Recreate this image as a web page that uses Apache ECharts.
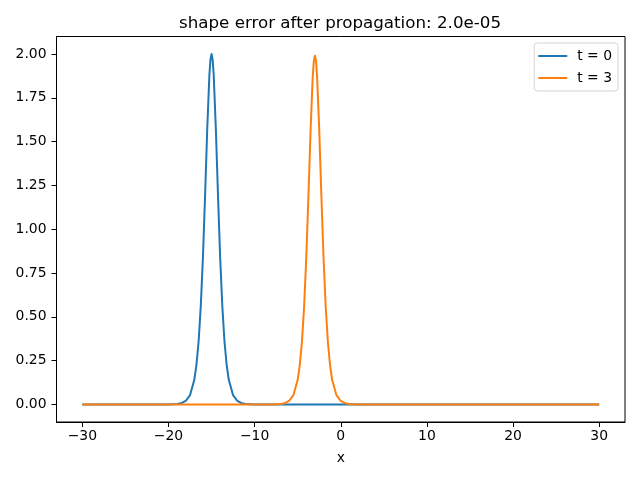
<!DOCTYPE html>
<html>
<head>
<meta charset="utf-8">
<script src="https://cdn.jsdelivr.net/npm/echarts@6/dist/echarts.min.js"></script>
<style>
html, body { margin: 0; padding: 0; background: #fff; }
#chart { width: 640px; height: 480px; }
</style>
</head>
<body>
<div id="chart"></div>
<script>
// values
var blueX = [-30, -24, -20, -19, -18.5, -18, -17.5, -17, -16.75, -16.5, -16.25, -16, -15.75, -15.5, -15.25, -15.125,
    -15, -14.875, -14.75, -14.5, -14.25, -14, -13.75, -13.5, -13.25, -13, -12.5, -12, -11.5, -11, -10, -8, 30];
var blueY = [0, 0, 0.0004, 0.0027, 0.0073, 0.020, 0.053, 0.141, 0.228, 0.361, 0.561, 0.840, 1.193, 1.573, 1.880, 1.969,
    2.000, 1.969, 1.880, 1.573, 1.193, 0.840, 0.561, 0.361, 0.228, 0.141, 0.053, 0.020, 0.0073, 0.0027, 0.0004, 0, 0];
var orangeX = [-30, -12, -8, -7, -6.5, -6, -5.5, -5, -4.75, -4.5, -4.25, -4, -3.75, -3.5, -3.25, -3.125,
    -3, -2.875, -2.75, -2.5, -2.25, -2, -1.75, -1.5, -1.25, -1, -0.5, 0, 0.5, 1, 2, 4, 30];
var orangeY = [0, 0, 0.0004, 0.0027, 0.0073, 0.020, 0.053, 0.141, 0.228, 0.361, 0.561, 0.840, 1.193, 1.570, 1.875, 1.960,
    1.990, 1.960, 1.875, 1.570, 1.193, 0.840, 0.561, 0.361, 0.228, 0.141, 0.053, 0.020, 0.0073, 0.0027, 0.0004, 0, 0];
var xTicks = [-30, -20, -10, 0, 10, 20, 30];
var yTicks = [0, 0.25, 0.5, 0.75, 1.0, 1.25, 1.5, 1.75, 2.0];
var titleText = 'shape error after propagation: 2.0e-05';

function pairs(xs, ys) {
    return xs.map(function (x, i) { return [x, ys[i]]; });
}

var chart = echarts.init(document.getElementById('chart'), null, { renderer: 'canvas' });
var font = 'DejaVu Sans';

chart.setOption({
    animation: false,
    textStyle: { fontFamily: font },
    title: {
        text: titleText,
        left: 335,
        top: 10,
        textAlign: 'center',
        textStyle: { fontSize: 16.7, fontWeight: 'normal', color: '#000', fontFamily: font }
    },
    legend: {
        orient: 'vertical',
        right: 22,
        top: 43,
        backgroundColor: '#fff',
        borderColor: '#d5d5d5',
        borderWidth: 1,
        borderRadius: 3,
        padding: [6, 6, 6, 4],
        itemGap: 8,
        itemWidth: 29,
        itemHeight: 2,
        icon: 'rect',
        textStyle: { fontSize: 13.9, color: '#000', fontFamily: font, padding: [0, 0, 0, 5] },
        data: ['t = 0', 't = 3']
    },
    grid: {
        left: 56.5,
        right: 15,
        top: 36.5,
        bottom: 58,
        show: true,
        borderColor: '#000',
        borderWidth: 1,
        backgroundColor: 'transparent'
    },
    xAxis: {
        type: 'value',
        min: -33,
        max: 33,
        name: 'x',
        nameLocation: 'middle',
        nameGap: 29,
        nameTextStyle: { fontSize: 13.9, color: '#000', fontFamily: font },
        axisLine: { show: true, onZero: false, lineStyle: { color: '#000', width: 1 } },
        axisTick: { show: true, length: 5, lineStyle: { color: '#000' }, customValues: xTicks },
        axisLabel: {
            fontSize: 13.9, color: '#000', margin: 7, fontFamily: font,
            customValues: xTicks,
            formatter: function (v) { return v < 0 ? '\u2212' + Math.abs(v) : String(v); }
        },
        splitLine: { show: false }
    },
    yAxis: {
        type: 'value',
        min: -0.1,
        max: 2.1,
        axisLine: { show: true, onZero: false, lineStyle: { color: '#000', width: 1 } },
        axisTick: { show: true, length: 5, lineStyle: { color: '#000' }, customValues: yTicks },
        axisLabel: {
            fontSize: 13.9, color: '#000', margin: 10, fontFamily: font,
            customValues: yTicks,
            formatter: function (v) { return v.toFixed(2); }
        },
        splitLine: { show: false }
    },
    series: [
        {
            name: 't = 0',
            type: 'line',
            data: pairs(blueX, blueY),
            showSymbol: false,
            symbol: 'none',
            color: '#1f77b4',
            lineStyle: { width: 2, color: '#1f77b4', join: 'round' },
            z: 2
        },
        {
            name: 't = 3',
            type: 'line',
            data: pairs(orangeX, orangeY),
            showSymbol: false,
            symbol: 'none',
            color: '#ff7f0e',
            lineStyle: { width: 2, color: '#ff7f0e', join: 'round' },
            z: 3
        }
    ]
});
</script>
</body>
</html>
